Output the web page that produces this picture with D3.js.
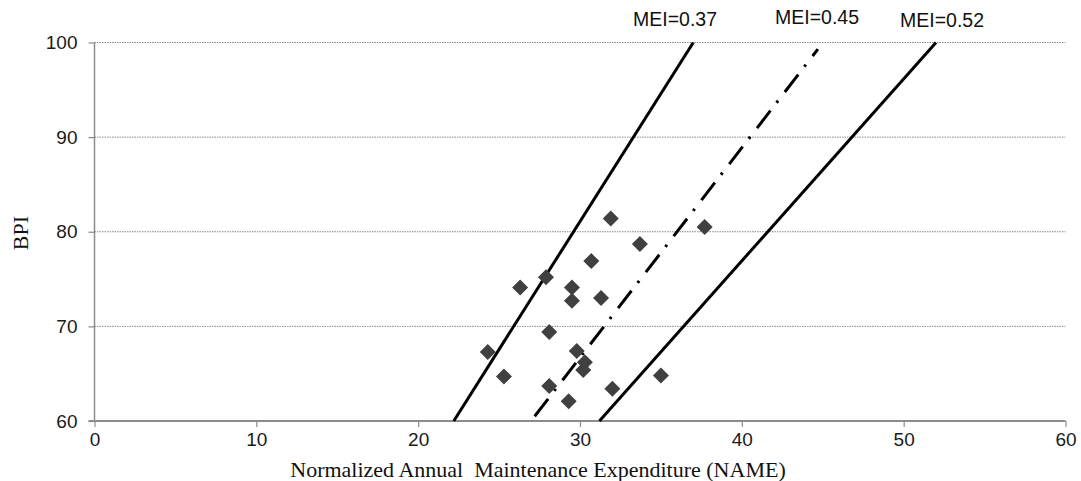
<!DOCTYPE html>
<html>
<head>
<meta charset="utf-8">
<script src="https://cdn.jsdelivr.net/npm/d3@7/dist/d3.min.js"></script>
<style>
  html, body { margin: 0; padding: 0; background: #fff; }
  svg { display: block; }
</style>
</head>
<body>
<svg id="chart" width="1081" height="481"></svg>
<script>
// ---- data ----
const xTicks = [0, 10, 20, 30, 40, 50, 60];
const yTicks = [60, 70, 80, 90, 100];
const nameValues = [31.9, 37.7, 33.7, 30.7, 27.9, 26.3, 29.5, 29.5, 31.3, 28.1, 24.3, 29.8, 30.3, 30.2, 25.3, 35.0, 28.1, 32.0, 29.3];
const bpiValues  = [81.4, 80.5, 78.7, 76.9, 75.2, 74.1, 74.1, 72.7, 73.0, 69.4, 67.3, 67.4, 66.2, 65.4, 64.7, 64.8, 63.7, 63.4, 62.1];
const meiLabels = ["MEI=0.37", "MEI=0.45", "MEI=0.52"];
const line037X = [22.2, 37.0], line037Y = [60, 100];
const line045X = [27.2, 44.7], line045Y = [60.5, 99.3];
const line052X = [31.2, 52.0], line052Y = [60, 100];
const xTitle = "Normalized Annual  Maintenance Expenditure (NAME)";
const yTitle = "BPI";

// ---- layout ----
const svg = d3.select("#chart");
const x = d3.scaleLinear().domain([0, 60]).range([94.5, 1065.5]);
const y = d3.scaleLinear().domain([60, 100]).range([421, 42.5]);
const sans = "'Liberation Sans', Arial, sans-serif";
const serif = "'Liberation Serif', 'Times New Roman', serif";

// gridlines
svg.append("g").selectAll("line").data(yTicks.filter(d => d > 60)).join("line")
  .attr("x1", x(0)).attr("x2", x(60))
  .attr("y1", d => y(d)).attr("y2", d => y(d))
  .attr("stroke", "#8a8a8a").attr("stroke-width", 1)
  .attr("stroke-dasharray", "1.5,1");

// y axis
const yAxis = svg.append("g").attr("transform", `translate(${x(0)},0)`)
  .call(d3.axisLeft(y).tickValues(yTicks).tickSize(6).tickPadding(11));
yAxis.select(".domain").attr("stroke", "#8c8c8c").attr("stroke-width", 1.5).attr("d", `M0,${y(100)}V${y(60)}`);
yAxis.selectAll(".tick line").attr("stroke", "#8c8c8c").attr("stroke-width", 1.2);
yAxis.selectAll(".tick text").attr("font-family", sans).attr("font-size", 19).attr("fill", "#1a1a1a");

// x axis
const xAxis = svg.append("g").attr("transform", `translate(0,${y(60)})`)
  .call(d3.axisBottom(x).tickValues(xTicks).tickSize(6).tickPadding(6));
xAxis.select(".domain").attr("stroke", "#8c8c8c").attr("stroke-width", 2.2).attr("d", `M${x(0)-6},0H${x(60)}`);
xAxis.selectAll(".tick line").attr("stroke", "#8c8c8c").attr("stroke-width", 1.2);
xAxis.selectAll(".tick text").attr("font-family", sans).attr("font-size", 19).attr("fill", "#1a1a1a");

// MEI lines
const lineGen = d3.line().x(d => x(d[0])).y(d => y(d[1]));
const lines = [
  { xs: line037X, ys: line037Y, dash: null },
  { xs: line045X, ys: line045Y, dash: "22,10,2.5,11" },
  { xs: line052X, ys: line052Y, dash: null }
];
svg.append("g").selectAll("path").data(lines).join("path")
  .attr("d", d => lineGen(d.xs.map((v, i) => [v, d.ys[i]])))
  .attr("fill", "none").attr("stroke", "#000").attr("stroke-width", 3)
  .attr("stroke-dasharray", d => d.dash);

// diamonds
const pts = nameValues.map((v, i) => [v, bpiValues[i]]);
svg.append("g").selectAll("path").data(pts).join("path")
  .attr("transform", d => `translate(${x(d[0])},${y(d[1])})`)
  .attr("d", "M0,-8L8,0L0,8L-8,0Z")
  .attr("fill", "#404040");

// MEI labels
const labelPos = [[633, 26], [775, 24], [900, 26.5]];
svg.append("g").selectAll("text").data(meiLabels).join("text")
  .attr("x", (d, i) => labelPos[i][0]).attr("y", (d, i) => labelPos[i][1])
  .attr("font-family", sans).attr("font-size", 19.5).attr("fill", "#111")
  .text(d => d);

// axis titles
svg.append("text").attr("x", 538).attr("y", 477)
  .attr("text-anchor", "middle").attr("font-family", serif).attr("font-size", 22)
  .attr("fill", "#111").attr("xml:space", "preserve").style("white-space", "pre")
  .text(xTitle);
svg.append("text").attr("transform", "translate(28,233) rotate(-90)")
  .attr("text-anchor", "middle").attr("font-family", serif).attr("font-size", 22)
  .attr("fill", "#111").text(yTitle);
</script>
</body>
</html>
